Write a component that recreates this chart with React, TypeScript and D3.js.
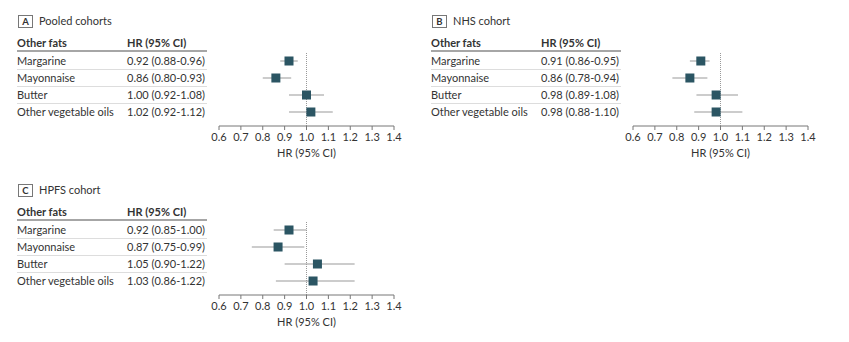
import React from "react";
import * as d3 from "d3";

const foods = ["Margarine", "Mayonnaise", "Butter", "Other vegetable oils"];
const pooledHR = [0.92, 0.86, 1.0, 1.02];
const pooledLo = [0.88, 0.8, 0.92, 0.92];
const pooledHi = [0.96, 0.93, 1.08, 1.12];
const nhsHR = [0.91, 0.86, 0.98, 0.98];
const nhsLo = [0.86, 0.78, 0.89, 0.88];
const nhsHi = [0.95, 0.94, 1.08, 1.1];
const hpfsHR = [0.92, 0.87, 1.05, 1.03];
const hpfsLo = [0.85, 0.75, 0.9, 0.86];
const hpfsHi = [1.0, 0.99, 1.22, 1.22];
const tickValues = [0.6, 0.7, 0.8, 0.9, 1.0, 1.1, 1.2, 1.3, 1.4];

const panels = [
  { letter: "A", title: "Pooled cohorts", hr: pooledHR, lo: pooledLo, hi: pooledHi, dx: 0, dy: 0 },
  { letter: "B", title: "NHS cohort", hr: nhsHR, lo: nhsLo, hi: nhsHi, dx: 414, dy: 0 },
  { letter: "C", title: "HPFS cohort", hr: hpfsHR, lo: hpfsLo, hi: hpfsHi, dx: 0, dy: 169 },
];

const FONT = "Lato, 'Open Sans', sans-serif";
const TEXT = "#333";
const SQ = "#2b5563";
const FS = 11;

function Panel({ p }: { p: (typeof panels)[number] }) {
  const x = d3.scaleLinear().domain([0.6, 1.4]).range([219, 394]);
  const y = d3.scalePoint<string>().domain(foods).range([61, 112]);
  const fmt = d3.format(".2f");
  return (
    <g transform={`translate(${p.dx},${p.dy})`} fontFamily={FONT}>
      <rect x={18.5} y={15.5} width={14} height={12} fill="white" stroke="#777" strokeWidth={1} />
      <text x={25.5} y={25} textAnchor="middle" fontSize={9.5} fontWeight={700} fill={TEXT}>{p.letter}</text>
      <text x={39} y={25} fontSize={FS} fill={TEXT}>{p.title}</text>
      <text x={17} y={47} fontSize={FS} fontWeight={700} fill={TEXT}>Other fats</text>
      <text x={127} y={47} fontSize={FS} fontWeight={700} fill={TEXT}>HR (95% CI)</text>
      <line x1={17} x2={207} y1={51} y2={51} stroke="#888" strokeWidth={1.5} />
      {foods.map((f, i) => {
        const yy = y(f)!;
        return (
          <g key={f}>
            {i < foods.length - 1 && (
              <line x1={17} x2={207} y1={yy + 8.5} y2={yy + 8.5} stroke="#ddd" strokeWidth={1} />
            )}
            <text x={17} y={yy + 4} fontSize={FS} fill={TEXT}>{f}</text>
            <text x={127} y={yy + 4} fontSize={FS} fill={TEXT}>
              {`${fmt(p.hr[i])} (${fmt(p.lo[i])}-${fmt(p.hi[i])})`}
            </text>
          </g>
        );
      })}
      <line x1={x(1)} x2={x(1)} y1={53} y2={126} stroke="#999" strokeWidth={1} strokeDasharray="1,1" />
      {foods.map((f, i) => {
        const yy = y(f)!;
        return (
          <g key={"m" + f}>
            <line x1={x(p.lo[i])} x2={x(p.hi[i])} y1={yy} y2={yy} stroke="#999" strokeWidth={1} />
            <rect x={x(p.hr[i]) - 4.5} y={yy - 4.5} width={9} height={9} fill={SQ} />
          </g>
        );
      })}
      <line x1={219} x2={394} y1={126} y2={126} stroke="#777" strokeWidth={1} />
      {tickValues.map((t) => (
        <g key={t}>
          <line x1={x(t)} x2={x(t)} y1={126} y2={130} stroke="#777" strokeWidth={1} />
          <text x={x(t)} y={141} textAnchor="middle" fontSize={FS} fill={TEXT}>{d3.format(".1f")(t)}</text>
        </g>
      ))}
      <text x={x(1)} y={157} textAnchor="middle" fontSize={FS} fill={TEXT}>HR (95% CI)</text>
    </g>
  );
}

export default function App() {
  return (
    <svg width={841} height={334} style={{ display: "block" }}>
      <rect width={841} height={334} fill="white" />
      <g transform="translate(-8,-8)">
        {panels.map((p) => (
          <Panel key={p.letter} p={p} />
        ))}
      </g>
    </svg>
  );
}
